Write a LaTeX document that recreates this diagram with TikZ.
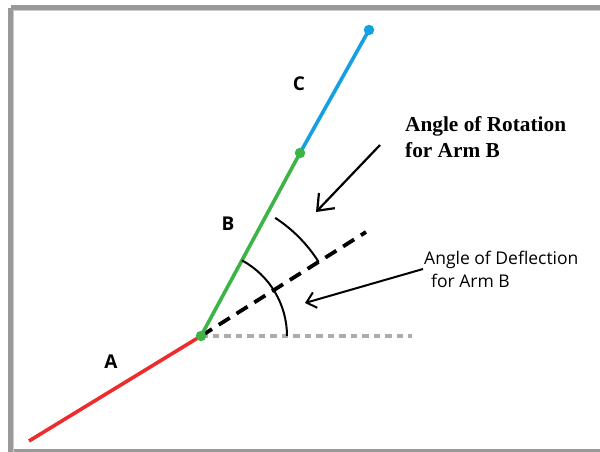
\documentclass[tikz,border=0pt]{standalone}
\usepackage{fontspec}
\setmainfont{Liberation Serif}
\newfontfamily\labelsans{Open Sans}
\usetikzlibrary{arrows.meta}
\definecolor{armA}{RGB}{237,45,45}
\definecolor{armB}{RGB}{60,180,70}
\definecolor{armC}{RGB}{20,160,225}
\tikzset{
  arm/.style={line width=3.6pt},
  jointdot/.style={circle,inner sep=0pt,minimum size=10.5pt},
  armlabel/.style={font=\labelsans\fontsize{19}{19}\selectfont\bfseries},
  anglearc/.style={line width=2pt},
  pointer/.style={line width=2.2pt,-{Straight Barb[length=14pt,width=22pt,line width=2.2pt]}},
  pointerB/.style={line width=2pt,-{Straight Barb[length=9pt,width=16pt,line width=2pt]}},
}
\begin{document}
\begin{tikzpicture}[x=1pt,y=-1pt]
\useasboundingbox (0,0) rectangle (600,452);
% frame
\draw[line width=6pt,gray!80] (11,8) -- (608,8);
\draw[line width=6pt,gray!80] (11,8) -- (11,452);
\draw[line width=4pt,gray!80] (11,450.5) -- (608,450.5);
\draw[line width=1.2pt,gray!40] (13.5,10.5) -- (608,10.5);
\draw[line width=1.2pt,gray!40] (13.5,10.5) -- (13.5,452);
% points
\coordinate (Aend) at (29,441);
\coordinate (P) at (201,336);
\coordinate (Q) at (300,153);
\coordinate (R) at (369,30);
\coordinate (H) at (412,336);
\coordinate (D) at (366,232);
% reference lines
\draw[line width=3.4pt,gray!65,dash pattern=on 6.5pt off 5pt] (P) -- (H);
\draw[line width=3.8pt,black,dash pattern=on 13pt off 8pt] (P) -- (D);
% arms
\draw[arm,armA] (Aend) -- (P);
\draw[arm,armB] (P) -- (Q);
\draw[arm,armC] (Q) -- (R);
\node[jointdot,fill=armB] (dP) at (P) {};
\node[jointdot,fill=armB] (dQ) at (Q) {};
\node[jointdot,fill=armC] (dR) at (R) {};
% arcs
\draw[anglearc] ([shift={(0:86)}]P) arc[start angle=0,end angle=-61.6,radius=86];
\draw[anglearc] ([shift={(-32.2:139)}]P) arc[start angle=-32.2,end angle=-57,radius=144];
% labels
\node[armlabel] (lC) at (299,84) {C};
\node[armlabel] (lB) at (228,224) {B};
\node[armlabel] (lA) at (111,362) {A};
\node[anchor=north west,align=left,font=\fontsize{21.3}{26}\selectfont\bfseries,inner sep=0pt] (rot) at (405,116) {Angle of Rotation\\for Arm B};
\node[anchor=north west,align=left,font=\labelsans\fontsize{17.5}{23}\selectfont,inner sep=0pt] (def) at (424,251) {Angle of Deflection\\\hspace*{7pt}for Arm B};
% pointers
\coordinate (r0) at (380,145);
\coordinate (r1) at (316,212);
\coordinate (d0) at (423,269);
\coordinate (d1) at (305,303);
\draw[pointer] (r0) -- (r1);
\draw[pointerB] (d0) -- (d1);
\end{tikzpicture}
\end{document}
